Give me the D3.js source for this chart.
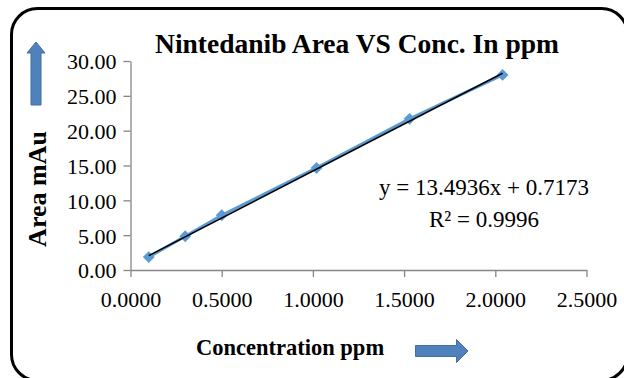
<!DOCTYPE html>
<html>
<head>
<meta charset="utf-8">
<script src="https://cdn.jsdelivr.net/npm/d3@7"></script>
<style>
  body { margin: 0; background: #fff; }
</style>
</head>
<body>
<div id="chart"></div>
<script>
// Calibration data
var concPpm = [0.1, 0.3, 0.5, 1.02, 1.53, 2.04];
var areaMau = [1.85, 4.85, 7.85, 14.65, 21.7, 28.0];
var xTicks = [0, 0.5, 1.0, 1.5, 2.0, 2.5];
var yTicks = [0, 5, 10, 15, 20, 25, 30];
var fitSlope = 13.4936;
var fitIntercept = 0.7173;
var fitR2 = 0.9996;

var width = 624,
    height = 378,
    serif = "'Liberation Serif', 'Times New Roman', serif";

var svg = d3.select("#chart").append("svg")
    .attr("width", width)
    .attr("height", height);

// Rounded chart border
svg.append("rect")
    .attr("x", 11.5)
    .attr("y", 8.5)
    .attr("width", 616)
    .attr("height", 372)
    .attr("rx", 26)
    .style("fill", "#fff")
    .style("stroke", "#000")
    .style("stroke-width", 3);

var x = d3.scaleLinear().domain([0, 2.5]).range([130.5, 586.5]);
var y = d3.scaleLinear().domain([0, 30]).range([270, 61]);

// Axes
var xAxis = svg.append("g")
    .attr("transform", "translate(0," + y(0) + ")")
    .call(d3.axisBottom(x).tickValues(xTicks).tickFormat(d3.format(".4f")).tickSizeInner(7).tickSizeOuter(0));

var yAxis = svg.append("g")
    .attr("transform", "translate(" + x(0) + ",0)")
    .call(d3.axisLeft(y).tickValues(yTicks).tickFormat(d3.format(".2f")).tickSizeInner(7).tickSizeOuter(0));

[xAxis, yAxis].forEach(function (g) {
    g.attr("font-family", null).attr("font-size", null);
    g.select(".domain").style("stroke", "#868686").style("stroke-width", 1.3);
    g.selectAll(".tick line").style("stroke", "#868686").style("stroke-width", 1.3);
    g.selectAll(".tick text")
        .style("font-family", serif)
        .style("font-size", "22px")
        .style("fill", "#000");
});
xAxis.selectAll(".tick text").attr("y", 21);
yAxis.selectAll(".tick text").attr("x", -14).attr("dy", "0.36em");

// Data line and markers
var pts = concPpm.map(function (c, i) {
    return [c, areaMau[i]];
});

svg.append("path")
    .datum(pts)
    .attr("d", d3.line()
        .x(function (d) { return x(d[0]); })
        .y(function (d) { return y(d[1]); }))
    .style("fill", "none")
    .style("stroke", "#5b9bd5")
    .style("stroke-width", 3);

svg.selectAll(".pt")
    .data(pts)
    .enter().append("path")
    .attr("class", "pt")
    .attr("d", d3.symbol().type(d3.symbolDiamond2).size(90))
    .attr("transform", function (d) {
        return "translate(" + x(d[0]) + "," + y(d[1]) + ")";
    })
    .style("fill", "#5b9bd5");

// Linear trendline
var x0 = d3.min(concPpm),
    x1 = d3.max(concPpm);
svg.append("line")
    .attr("x1", x(x0))
    .attr("y1", y(fitSlope * x0 + fitIntercept))
    .attr("x2", x(x1))
    .attr("y2", y(fitSlope * x1 + fitIntercept))
    .style("stroke", "#000")
    .style("stroke-width", 1.6);

function label(px, py, size, bold, txt, anchor) {
    return svg.append("text")
        .attr("x", px)
        .attr("y", py)
        .attr("text-anchor", anchor || "start")
        .style("font-family", serif)
        .style("font-size", size + "px")
        .style("font-weight", bold ? "bold" : "normal")
        .style("fill", "#000")
        .text(txt);
}

// Title
label(357, 53, 27.5, true, "Nintedanib Area VS Conc. In ppm", "middle");

// Equation
label(484, 195, 23, false, "y = " + fitSlope.toFixed(4) + "x + " + fitIntercept.toFixed(4), "middle");
label(484, 227, 23, false, "R\u00b2 = " + fitR2.toFixed(4), "middle");

// Axis titles
label(0, 0, 26, true, "Area  mAu", "middle")
    .attr("transform", "translate(46,189) rotate(-90)");
label(196, 355, 22.5, true, "Concentration ppm");

// Block arrows
var arrowFill = "#4f81bd",
    arrowStroke = "#41719c";

svg.append("path")
    .attr("d", "M36,42 L45,53 L41,53 L41,105 L31,105 L31,53 L27,53 Z")
    .style("fill", arrowFill)
    .style("stroke", arrowStroke)
    .style("stroke-width", 1);

svg.append("path")
    .attr("d", "M468,351 L456.5,339.5 L456.5,345.5 L415.5,345.5 L415.5,356.5 L456.5,356.5 L456.5,362.5 Z")
    .style("fill", arrowFill)
    .style("stroke", arrowStroke)
    .style("stroke-width", 1);
</script>
</body>
</html>
